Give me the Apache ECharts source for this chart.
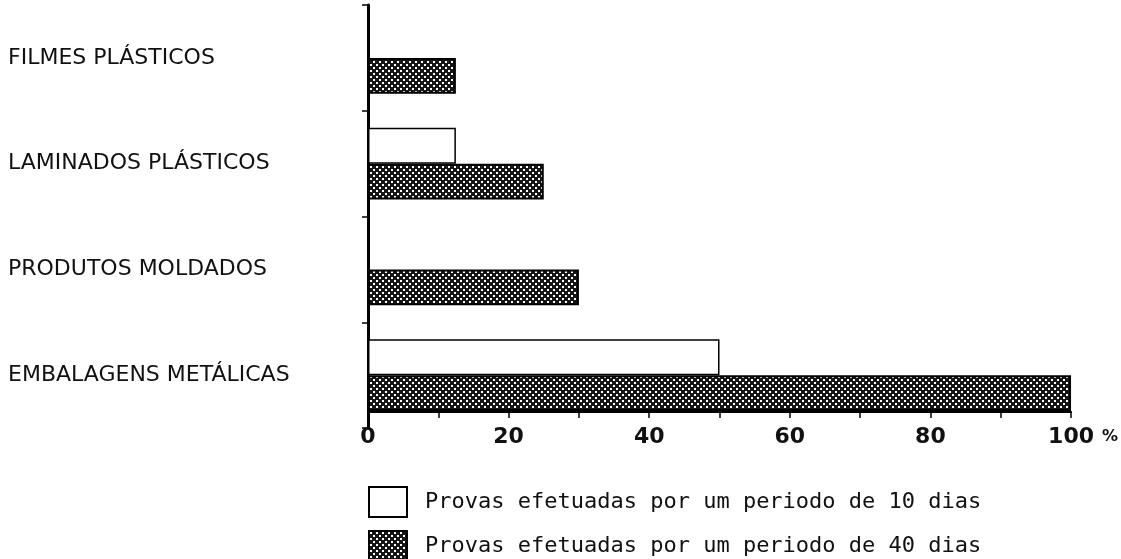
<!DOCTYPE html>
<html>
<head>
<meta charset="utf-8">
<script src="https://cdn.jsdelivr.net/npm/echarts@6/dist/echarts.min.js"></script>
<style>
html,body{margin:0;padding:0;background:#fff;}
#chart{width:1121px;height:559px;}
</style>
</head>
<body>
<div id="chart"></div>
<script>
// ---- data ----
const categories = ['FILMES PLÁSTICOS', 'LAMINADOS PLÁSTICOS', 'PRODUTOS MOLDADOS', 'EMBALAGENS METÁLICAS'];
const seriesNames = ['Provas efetuadas por um periodo de 10 dias', 'Provas efetuadas por um periodo de 40 dias'];
const values10dias = [null, 12.5, null, 50];
const values40dias = [12.5, 25, 30, 100];
const xTicks = [0, 20, 40, 60, 80, 100];

// hatch pattern
function makePattern() {
  const c = document.createElement('canvas');
  c.width = 6; c.height = 6;
  const g = c.getContext('2d');
  g.fillStyle = '#161616';
  g.fillRect(0, 0, 6, 6);
  g.fillStyle = '#ffffff';
  g.fillRect(1, 1, 2, 2);
  g.fillRect(4, 4, 2, 2);
  return c;
}
const hatch = { image: makePattern(), repeat: 'repeat' };

const legendText = { fontFamily: 'DejaVu Sans Mono', fontSize: 22, color: '#111', padding: [0, 0, 0, 13] };
function legendFor(name, top) {
  return {
    orient: 'horizontal',
    left: 368,
    top: top,
    itemWidth: 38,
    itemHeight: 30,
    icon: 'rect',
    selectedMode: false,
    padding: 0,
    textStyle: legendText,
    data: [name]
  };
}

const chart = echarts.init(document.getElementById('chart'), null, { renderer: 'canvas' });
const option = {
  backgroundColor: '#ffffff',
  animation: false,
  grid: { left: 368, right: 48, top: 5, bottom: 131, containLabel: false },
  legend: [legendFor(seriesNames[0], 486), legendFor(seriesNames[1], 530)],
  xAxis: {
    type: 'value',
    min: 0,
    max: 100,
    interval: 10,
    offset: -16,
    axisLine: { show: true, lineStyle: { color: '#000', width: 2 } },
    axisTick: { show: true, length: 6, lineStyle: { color: '#000', width: 1.5 } },
    splitLine: { show: false },
    axisLabel: {
      margin: 14,
      fontFamily: 'DejaVu Sans',
      fontSize: 22,
      fontWeight: 'bold',
      color: '#111',
      formatter: function (v) {
        if (xTicks.indexOf(v) < 0) return '';
        if (v === 100) return '{s|}{n|' + v + '}{p|%}';
        return String(v);
      },
      rich: {
        s: { width: 24 },
        n: { fontFamily: 'DejaVu Sans', fontSize: 22, fontWeight: 'bold', color: '#111' },
        p: { fontFamily: 'DejaVu Sans', fontSize: 16, fontWeight: 'bold', color: '#111', width: 24, align: 'right' }
      }
    }
  },
  yAxis: {
    type: 'category',
    data: categories,
    inverse: true,
    axisLine: { show: true, lineStyle: { color: '#000', width: 3 } },
    axisTick: { show: true, length: 6, lineStyle: { color: '#000', width: 1.5 } },
    axisLabel: {
      align: 'left',
      margin: 360,
      padding: [7, 0, 0, 0],
      fontFamily: 'DejaVu Sans',
      fontSize: 22,
      color: '#111'
    }
  },
  series: [
    {
      name: seriesNames[0],
      type: 'bar',
      data: values10dias,
      barGap: '0%',
      barCategoryGap: '32%',
      itemStyle: { color: '#ffffff', borderColor: '#000', borderWidth: 1.5 }
    },
    {
      name: seriesNames[1],
      type: 'bar',
      data: values40dias,
      barGap: '0%',
      barCategoryGap: '32%',
      itemStyle: { color: hatch, borderColor: '#000', borderWidth: 2 }
    }
  ]
};
chart.setOption(option);
</script>
</body>
</html>
